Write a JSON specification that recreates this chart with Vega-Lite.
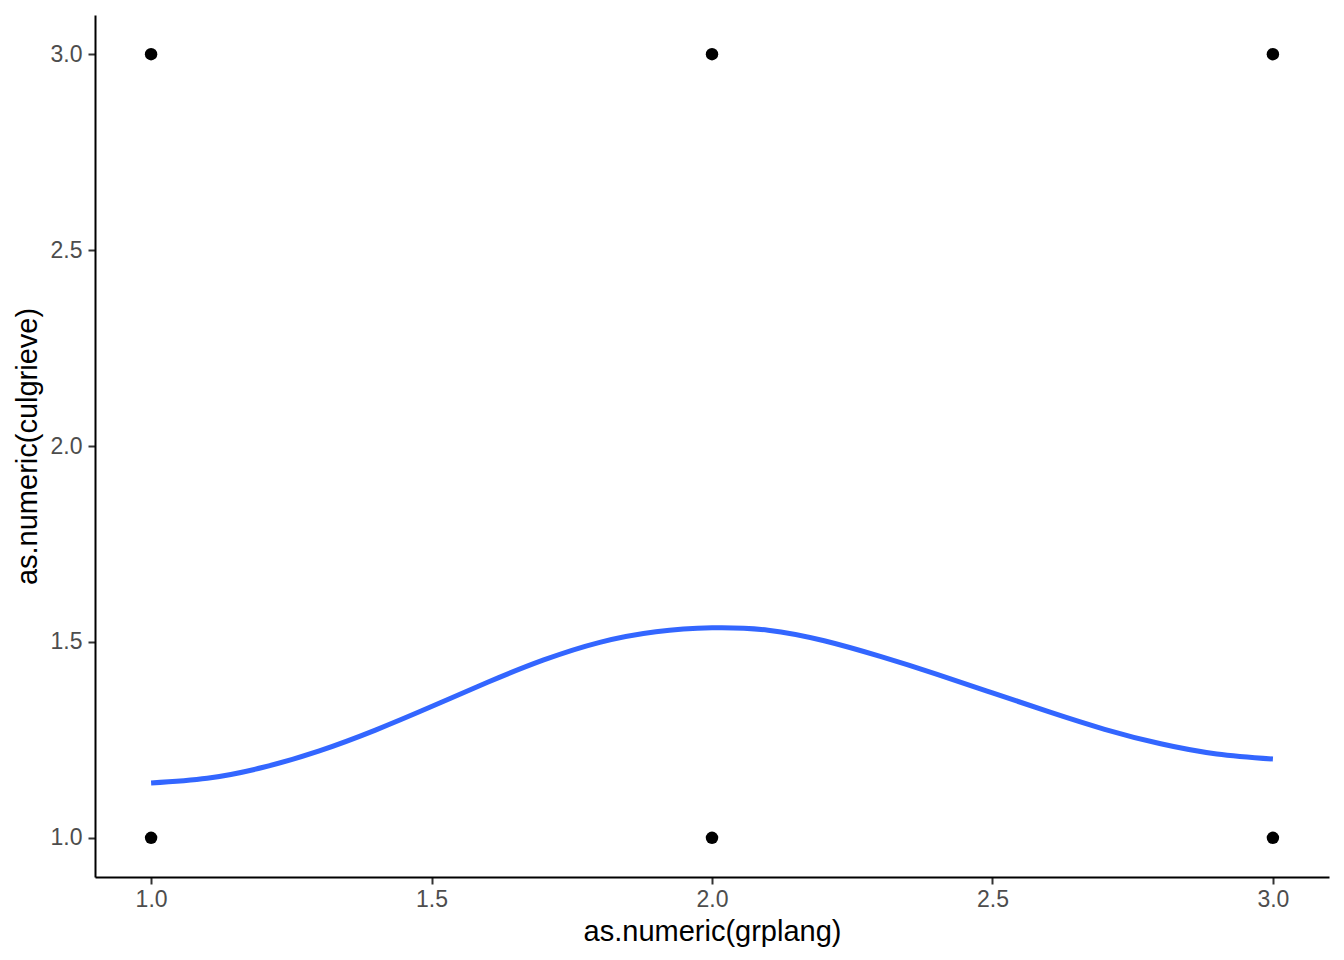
{
  "$schema": "https://vega.github.io/schema/vega-lite/v6.json",
  "width": 1234,
  "height": 862,
  "autosize": {"type": "none"},
  "padding": {"left": 95, "top": 15, "right": 15, "bottom": 83},
  "background": "white",
  "datasets": {
    "pts": [
      {"x": 1, "y": 1}, {"x": 1, "y": 3},
      {"x": 2, "y": 1}, {"x": 2, "y": 3},
      {"x": 3, "y": 1}, {"x": 3, "y": 3}
    ],
    "curve": [
      {"x": 1.0, "y": 1.140},
      {"x": 1.1, "y": 1.152},
      {"x": 1.2, "y": 1.180},
      {"x": 1.3, "y": 1.222},
      {"x": 1.4, "y": 1.275},
      {"x": 1.5, "y": 1.335},
      {"x": 1.6, "y": 1.397},
      {"x": 1.7, "y": 1.454},
      {"x": 1.8, "y": 1.499},
      {"x": 1.9, "y": 1.526},
      {"x": 2.0, "y": 1.536},
      {"x": 2.1, "y": 1.530},
      {"x": 2.2, "y": 1.503},
      {"x": 2.3, "y": 1.463},
      {"x": 2.4, "y": 1.418},
      {"x": 2.5, "y": 1.370},
      {"x": 2.6, "y": 1.322},
      {"x": 2.7, "y": 1.277},
      {"x": 2.8, "y": 1.240},
      {"x": 2.9, "y": 1.214},
      {"x": 3.0, "y": 1.201}
    ]
  },
  "config": {
    "view": {"stroke": null},
    "axis": {
      "grid": false,
      "domainColor": "#000000",
      "domainWidth": 2,
      "tickColor": "#333333",
      "tickWidth": 2,
      "tickSize": 7,
      "labelFont": "Liberation Sans",
      "labelFontSize": 23,
      "labelColor": "#4D4D4D",
      "titleFont": "Liberation Sans",
      "titleFontSize": 29,
      "titleFontWeight": "normal",
      "titleColor": "#000000"
    }
  },
  "layer": [
    {
      "data": {"name": "curve"},
      "mark": {"type": "line", "color": "#3366FF", "strokeWidth": 5, "interpolate": "natural"},
      "encoding": {
        "x": {"field": "x", "type": "quantitative",
          "scale": {"domain": [0.9, 3.1], "nice": false, "zero": false},
          "axis": {"title": "as.numeric(grplang)", "values": [1, 1.5, 2, 2.5, 3], "format": ".1f", "labelPadding": 4, "titlePadding": 6}},
        "y": {"field": "y", "type": "quantitative",
          "scale": {"domain": [0.9, 3.1], "nice": false, "zero": false},
          "axis": {"title": "as.numeric(culgrieve)", "values": [1, 1.5, 2, 2.5, 3], "format": ".1f", "labelPadding": 6, "titlePadding": 8}}
      }
    },
    {
      "data": {"name": "pts"},
      "mark": {"type": "circle", "color": "#000000", "opacity": 1, "size": 155},
      "encoding": {
        "x": {"field": "x", "type": "quantitative"},
        "y": {"field": "y", "type": "quantitative"}
      }
    }
  ]
}
